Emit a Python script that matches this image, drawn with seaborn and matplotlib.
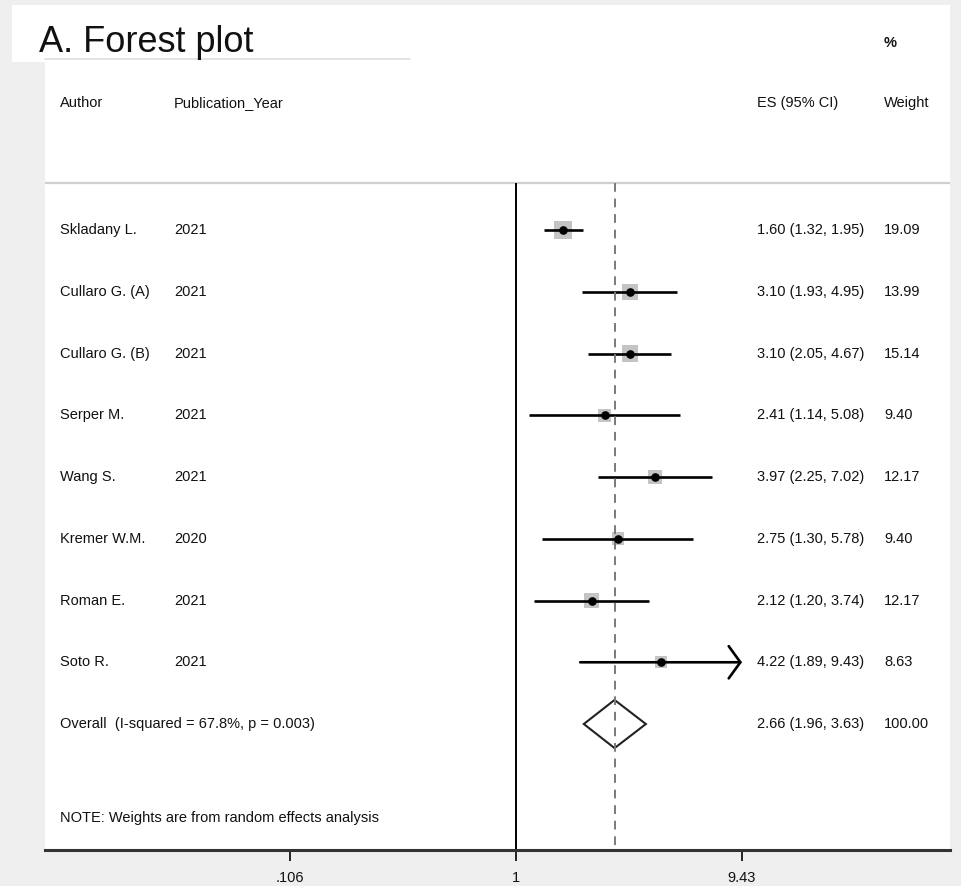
import matplotlib
matplotlib.use("Agg")
import matplotlib.pyplot as plt
from matplotlib.patches import Rectangle
from matplotlib.lines import Line2D
import matplotlib.transforms as mtransforms
import seaborn as sns
import pandas as pd

authors = ["Skladany L.", "Cullaro G. (A)", "Cullaro G. (B)", "Serper M.",
           "Wang S.", "Kremer W.M.", "Roman E.", "Soto R."]
years = ["2021", "2021", "2021", "2021", "2021", "2020", "2021", "2021"]
es = [1.60, 3.10, 3.10, 2.41, 3.97, 2.75, 2.12, 4.22]
ci_lo = [1.32, 1.93, 2.05, 1.14, 2.25, 1.30, 1.20, 1.89]
ci_hi = [1.95, 4.95, 4.67, 5.08, 7.02, 5.78, 3.74, 9.43]
weights = [19.09, 13.99, 15.14, 9.40, 12.17, 9.40, 12.17, 8.63]

overall_es = 2.66
overall_lo = 1.96
overall_hi = 3.63
overall_label = "Overall  (I-squared = 67.8%, p = 0.003)"
note = "NOTE: Weights are from random effects analysis"

tick_vals = [0.106, 1, 9.43]
tick_labels = [".106", "1", "9.43"]

df = pd.DataFrame({"author": authors, "year": years, "es": es,
                   "lo": ci_lo, "hi": ci_hi, "weight": weights})
df["row"] = range(len(df))
overall_row = len(df)

sns.set_theme(style="white")
plt.rcParams["font.family"] = ["Liberation Sans", "DejaVu Sans"]

W, H = 961, 886
fig = plt.figure(figsize=(W / 100, H / 100), dpi=100, facecolor="#efefef")

# white band behind the title
fig.patches.append(Rectangle((12 / W, 1 - 62 / H), 938 / W, 57 / H,
                             transform=fig.transFigure, facecolor="white",
                             edgecolor="none", zorder=-2))
fig.lines.append(Line2D([45 / W, 410 / W], [1 - 59 / H, 1 - 59 / H],
                        transform=fig.transFigure, color="#dedede", lw=1.2,
                        zorder=2))
fig.text(39 / W, 1 - 52 / H, "A. Forest plot", fontsize=26, va="baseline",
         color="#111111")

ax = fig.add_axes([45 / W, 36 / H, 905 / W, 790 / H])
ax.set_zorder(1)
ax.set_facecolor("white")
ax.set_xscale("log")
ax.set_xlim(0.0093, 74.4)
ymax, ymin = 10.04, -2.753
ax.set_ylim(ymax, ymin)

sep = -0.76
ax.axhline(sep, color="#cfcfcf", lw=1.6, zorder=1)
ax.vlines(1, sep, ymax, color="black", lw=1.4, zorder=2)
ax.vlines(overall_es, sep, ymax, color="#7a7a7a", lw=1.4,
          linestyles=(0, (4.5, 3.5)), zorder=5)

# weight squares
sns.scatterplot(data=df, x="es", y="row", size="weight",
                sizes=(min(weights) * 9, max(weights) * 9),
                marker="s", color="#c4c4c4", edgecolor="none",
                legend=False, ax=ax, zorder=3)

# confidence intervals
for _, r in df.iterrows():
    if r["hi"] >= tick_vals[-1]:
        ax.annotate("", xy=(r["hi"], r["row"]), xytext=(r["lo"], r["row"]),
                    arrowprops=dict(arrowstyle="->,head_length=0.42,head_width=0.58",
                                    lw=1.9, color="black", shrinkA=0, shrinkB=0,
                                    mutation_scale=20), zorder=4)
    else:
        ax.hlines(r["row"], r["lo"], r["hi"], color="black", lw=1.9, zorder=4)
ax.plot(df["es"], df["row"], "o", color="black", markersize=5.2, zorder=6)

# overall diamond
h = 0.39
ax.fill([overall_lo, overall_es, overall_hi, overall_es],
        [overall_row, overall_row - h, overall_row, overall_row + h],
        facecolor="none", edgecolor="#222222", lw=1.5, zorder=4)

# text columns
trans = mtransforms.blended_transform_factory(ax.transAxes, ax.transData)
fs = 10.5
col_author, col_year, col_es, col_w = 0.0166, 0.1425, 0.787, 0.927
txt = dict(transform=trans, fontsize=fs, va="center", color="#111111", clip_on=False)

ax.text(col_author, -2.06, "Author", **txt)
ax.text(col_year, -2.06, "Publication_Year", **txt)
ax.text(col_es, -2.06, "ES (95% CI)", **txt)
ax.text(col_w, -2.06, "Weight", **txt)
ax.text(col_w, -3.03, "%", fontweight="bold", **txt)

for _, r in df.iterrows():
    ax.text(col_author, r["row"], r["author"], **txt)
    ax.text(col_year, r["row"], r["year"], **txt)
    ax.text(col_es, r["row"], f"{r['es']:.2f} ({r['lo']:.2f}, {r['hi']:.2f})", **txt)
    ax.text(col_w, r["row"], f"{r['weight']:.2f}", **txt)

ax.text(col_author, overall_row, overall_label, **txt)
ax.text(col_es, overall_row, f"{overall_es:.2f} ({overall_lo:.2f}, {overall_hi:.2f})", **txt)
ax.text(col_w, overall_row, "100.00", **txt)
ax.text(col_author, 9.52, note, **txt)

# axis styling
for side in ["top", "left", "right"]:
    ax.spines[side].set_visible(False)
ax.spines["bottom"].set_color("#333333")
ax.spines["bottom"].set_linewidth(2.2)
ax.set_yticks([])
ax.set_xticks(tick_vals)
ax.set_xticklabels(tick_labels)
ax.minorticks_off()
ax.tick_params(axis="x", direction="out", length=8, width=1.4, color="#222222",
               labelsize=fs, labelcolor="#111111", pad=7, bottom=True)
ax.set_xlabel("")
ax.set_ylabel("")

fig.savefig("out.png", dpi=100, facecolor=fig.get_facecolor())
